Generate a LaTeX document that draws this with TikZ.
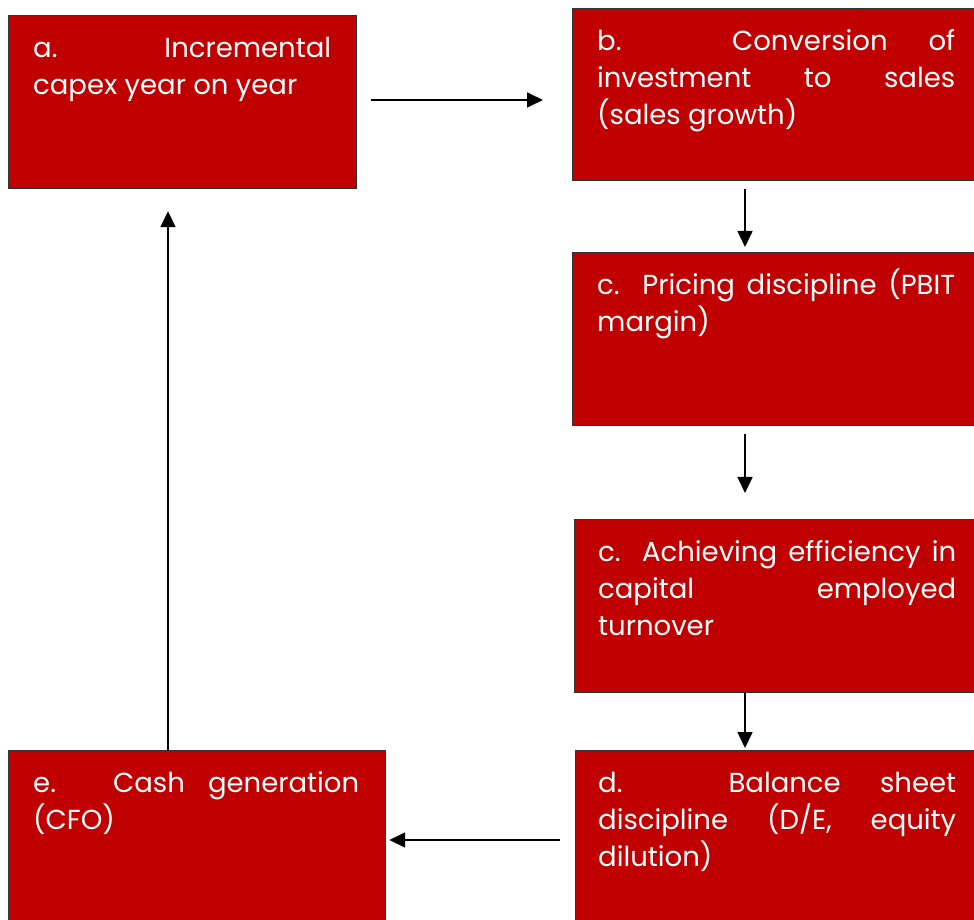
\documentclass[tikz,border=0pt]{standalone}
\usepackage{fontspec}
\setmainfont{Poppins}
\usetikzlibrary{calc,arrows.meta}
\definecolor{boxred}{HTML}{C00000}
\hyphenpenalty=10000
\exhyphenpenalty=10000
\tolerance=10000
\pretolerance=-1
\newcommand{\firstline}{\rule{0pt}{30pt}}
\tikzset{
  boxr/.style={draw=black!80, line width=1.2pt, fill=boxred, inner sep=0pt, anchor=north west},
  txt/.style={text=white, inner sep=0pt, anchor=north west, align=justify,
    font=\fontsize{27.5}{37}\selectfont},
  arr/.style={-{Triangle[length=16pt,width=15pt]}, line width=1.7pt, black}
}
\begin{document}
\begin{tikzpicture}[x=1pt,y=1pt]
\useasboundingbox (0,0) rectangle (974,919);
\clip (0,0) rectangle (974,919);
% boxes
\node[boxr, minimum width=348pt, minimum height=173pt] (a) at (8,904) {};
\node[boxr, minimum width=408pt, minimum height=172pt] (b) at (572,911) {};
\node[boxr, minimum width=408pt, minimum height=173pt] (c1) at (572,667) {};
\node[boxr, minimum width=406pt, minimum height=173pt] (c2) at (574,400) {};
\node[boxr, minimum width=377pt, minimum height=180pt] (e) at (8,169) {};
\node[boxr, minimum width=405pt, minimum height=180pt] (d) at (575,169) {};
% texts
\node[txt, text width=298pt] (ta) at ($(a.north west)+(25,-12)$) {\firstline a. Incremental\linebreak capex year on year};
\node[txt, text width=358pt] (tb) at ($(b.north west)+(25,-12)$) {\firstline b. Conversion of\linebreak investment to sales\linebreak (sales growth)};
\node[txt, text width=358pt] (tc1) at ($(c1.north west)+(25,-12)$) {\firstline c. Pricing discipline (PBIT\linebreak margin)};
\node[txt, text width=358pt] (tc2) at ($(c2.north west)+(24,-12)$) {\firstline c. Achieving efficiency in\linebreak capital employed\linebreak turnover};
\node[txt, text width=326pt] (te) at ($(e.north west)+(25,-12)$) {\firstline e. Cash generation\linebreak (CFO)};
\node[txt, text width=358pt] (td) at ($(d.north west)+(23,-12)$) {\firstline d. Balance sheet\linebreak discipline (D/E, equity\linebreak dilution)};
% connectors
\coordinate (ab1) at ($(a.north east)+(14,-85)$);
\coordinate (ab2) at (b.west |- ab1);
\draw[arr] (ab1) -- ([xshift=-29pt]ab2);
\coordinate (bc1) at ($(b.south west)+(173,-8)$);
\draw[arr] (bc1) -- ([yshift=5pt]c1.north -| bc1);
\coordinate (cc1) at ($(c1.south west)+(173,-8)$);
\draw[arr] (cc1) -- ([yshift=26pt]c2.north -| cc1);
\coordinate (cd1) at ($(c2.south west)+(171,0)$);
\draw[arr] (cd1) -- ([yshift=2pt]d.north -| cd1);
\coordinate (de1) at ($(d.north west)+(-15,-90)$);
\draw[arr] (de1) -- ([xshift=3pt]e.east |- de1);
\coordinate (ea1) at ($(e.north west)+(160,0)$);
\draw[arr] (ea1) -- ([yshift=-22pt]a.south -| ea1);
\end{tikzpicture}
\end{document}
